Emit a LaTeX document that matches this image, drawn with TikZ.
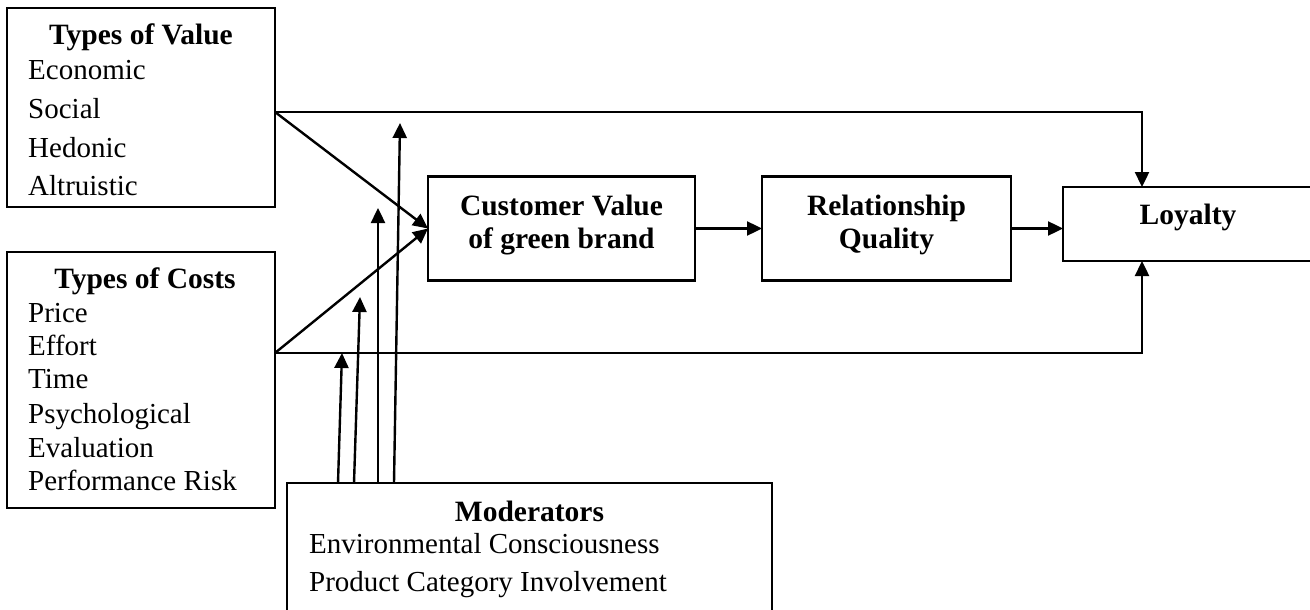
\documentclass[tikz,border=0pt]{standalone}
\usepackage{fontspec}
\setmainfont{Liberation Serif}
\usetikzlibrary{arrows.meta}
\begin{document}
\begin{tikzpicture}[x=1pt,y=-1pt,
  box/.style={draw,line width=2.1pt,rectangle,inner sep=0pt,outer sep=0pt},
  arr/.style={line width=2.4pt,-{Triangle[length=15pt,width=14pt]}},
  ttl/.style={font=\fontsize{29.5}{29.5}\selectfont\bfseries,inner sep=0pt,anchor=base},
  itm/.style={font=\fontsize{29}{29}\selectfont,inner sep=0pt,anchor=base west}]
\clip (0,0) rectangle (1310,610);
\fill[white] (0,0) rectangle (1310,610);

% boxes
\node[box,minimum width=268pt,minimum height=199pt] (val) at (141,107.5) {};
\node[box,minimum width=268pt,minimum height=256pt] (cost) at (141,380) {};
\node[box,minimum width=267pt,minimum height=104pt] (cv) at (561.5,228.5) {};
\node[box,minimum width=249pt,minimum height=104pt] (rq) at (886.5,228.5) {};
\node[box,minimum width=260pt,minimum height=74pt] (loy) at (1193,224) {};
\node[box,minimum width=485pt,minimum height=160pt] (mod) at (529.5,563) {};

% texts
\node[ttl] (valt) at (141,45) {Types of Value};
\node[itm] (v1) at (28,80) {Economic};
\node[itm] (v2) at (28,118) {Social};
\node[itm] (v3) at (28,157) {Hedonic};
\node[itm] (v4) at (28,195) {Altruistic};

\node[ttl] (costt) at (145,288) {Types of Costs};
\node[itm] (c1) at (28,322) {Price};
\node[itm] (c2) at (28,355) {Effort};
\node[itm] (c3) at (28,388) {Time};
\node[itm] (c4) at (28,423) {Psychological};
\node[itm] (c5) at (28,457) {Evaluation};
\node[itm] (c6) at (28,490) {Performance Risk};

\node[ttl] (cvt1) at (561.5,215) {Customer Value};
\node[ttl] (cvt2) at (561.5,248) {of green brand};
\node[ttl] (rqt1) at (886.5,215) {Relationship};
\node[ttl] (rqt2) at (886.5,248) {Quality};
\node[ttl] (loyt) at (1188,224) {Loyalty};

\node[ttl] (modt) at (529.5,521) {Moderators};
\node[itm] (m1) at (309,553) {Environmental Consciousness};
\node[itm] (m2) at (309,591) {Product Category Involvement};

% direct paths to loyalty
\coordinate (drop) at (1142,0);
\coordinate (vout) at (275,112);
\coordinate (cout) at (275,353);
\draw[arr] (vout) -| (drop |- loy.north);
\draw[arr] (cout) -| (drop |- loy.south);

% into customer value
\draw[arr] (vout) -- (cv.west);
\draw[arr] (cout) -- (cv.west);

% main chain
\draw[arr] (cv.east) -- (rq.west);
\draw[arr] (rq.east) -- (rq.east -| loy.west);

% moderating arrows
\coordinate (t1) at (342,353);
\coordinate (t2) at (360,297);
\coordinate (t3) at (378,208);
\coordinate (t4) at (400,123);
\draw[arr] (mod.north west -| 338,0) -- (t1);
\draw[arr] (mod.north west -| 354,0) -- (t2);
\draw[arr] (mod.north west -| 378,0) -- (t3);
\draw[arr] (mod.north west -| 394,0) -- (t4);
\end{tikzpicture}
\end{document}
